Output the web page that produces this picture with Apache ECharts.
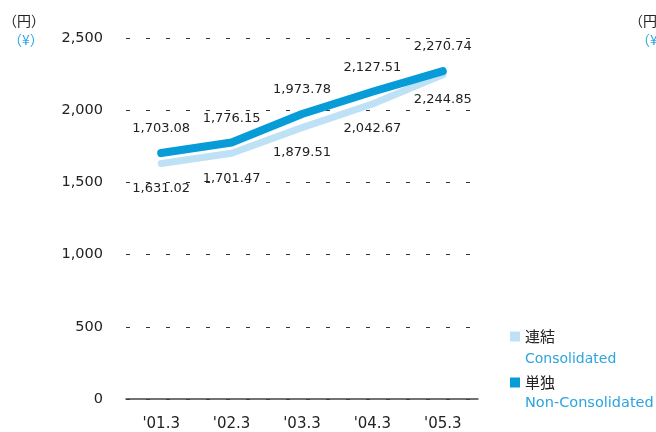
<!DOCTYPE html>
<html>
<head>
<meta charset="utf-8">
<script src="https://cdn.jsdelivr.net/npm/echarts@6/dist/echarts.min.js"></script>
<style>
  html, body { margin: 0; padding: 0; background: #fff; }
  #chart { width: 656px; height: 432px; }
</style>
</head>
<body>
<div id="chart"></div>
<script>
// Fiscal year-end categories
const categories = ["'01.3", "'02.3", "'03.3", "'04.3", "'05.3"];
// Per-share values (yen)
const consolidated = [1631.02, 1701.47, 1879.51, 2042.67, 2244.85];
const nonConsolidated = [1703.08, 1776.15, 1973.78, 2127.51, 2270.74];
// Y axis range
const yMin = 0, yMax = 2500, yStep = 500;

const FONT = 'DejaVu Sans';
const LIGHT = '#bfe1f5';
const DARK = '#079bd8';
const TEXT_BLUE = '#2ba5de';

const fmt = v => v.toLocaleString('en-US', { minimumFractionDigits: 2, maximumFractionDigits: 2 });

const chart = echarts.init(document.getElementById('chart'), null, { renderer: 'canvas' });
chart.setOption({
  backgroundColor: '#fff',
  animation: false,
  textStyle: { fontFamily: FONT },
  grid: { left: 126, right: 178, top: 38, bottom: 28, containLabel: false },
  xAxis: {
    type: 'category',
    data: categories,
    boundaryGap: true,
    axisLine: { show: true, lineStyle: { color: '#444', width: 1.5 } },
    axisTick: { show: false },
    axisLabel: { color: '#222', fontSize: 15, fontFamily: FONT, margin: 18 },
    splitLine: { show: false }
  },
  yAxis: {
    type: 'value',
    min: yMin, max: yMax, interval: yStep,
    axisLine: { show: false },
    axisTick: { show: false },
    axisLabel: {
      color: '#222', fontSize: 14.5, fontFamily: FONT, margin: 23,
      formatter: v => v.toLocaleString('en-US')
    },
    splitLine: { show: true, lineStyle: { color: '#333', width: 1, type: [4, 16] } }
  },
  legend: {
    orient: 'vertical',
    left: 505, top: 324,
    icon: 'rect',
    itemWidth: 10, itemHeight: 10,
    itemGap: 31,
    selectedMode: false,
    textStyle: { color: '#222', fontSize: 15, fontFamily: '"Noto Sans CJK JP"' },
    data: ['連結', '単独']
  },
  series: [
    {
      name: '連結',
      type: 'line',
      data: consolidated,
      symbol: 'circle',
      symbolSize: 1,
      showSymbol: true,
      z: 2,
      lineStyle: { color: LIGHT, width: 7, cap: 'round', join: 'round' },
      itemStyle: { color: LIGHT },
      label: {
        show: true, position: 'bottom', distance: 18,
        color: '#222', fontSize: 13, fontFamily: FONT,
        formatter: p => fmt(p.value)
      }
    },
    {
      name: '単独',
      type: 'line',
      data: nonConsolidated,
      symbol: 'circle',
      symbolSize: 1,
      showSymbol: true,
      z: 3,
      lineStyle: { color: DARK, width: 8, cap: 'round', join: 'round' },
      itemStyle: { color: DARK },
      label: {
        show: true, position: 'top', distance: 17,
        color: '#222', fontSize: 13, fontFamily: FONT,
        formatter: p => fmt(p.value)
      }
    }
  ],
  graphic: [
    { type: 'text', left: 3, top: 14, style: { text: '（円）', fill: '#222', font: '14px "Noto Sans CJK JP"' } },
    { type: 'text', left: 8, top: 33, style: { text: '（¥）', fill: TEXT_BLUE, font: '14px "Noto Sans CJK JP"' } },
    { type: 'text', left: 629, top: 14, style: { text: '（円）', fill: '#222', font: '14px "Noto Sans CJK JP"' } },
    { type: 'text', left: 636, top: 33, style: { text: '（¥）', fill: TEXT_BLUE, font: '14px "Noto Sans CJK JP"' } },
    { type: 'text', left: 525, top: 352, style: { text: 'Consolidated', fill: TEXT_BLUE, font: '14px "DejaVu Sans"' } },
    { type: 'text', left: 525, top: 396, style: { text: 'Non-Consolidated', fill: TEXT_BLUE, font: '14.5px "DejaVu Sans"' } }
  ]
});
</script>
</body>
</html>
